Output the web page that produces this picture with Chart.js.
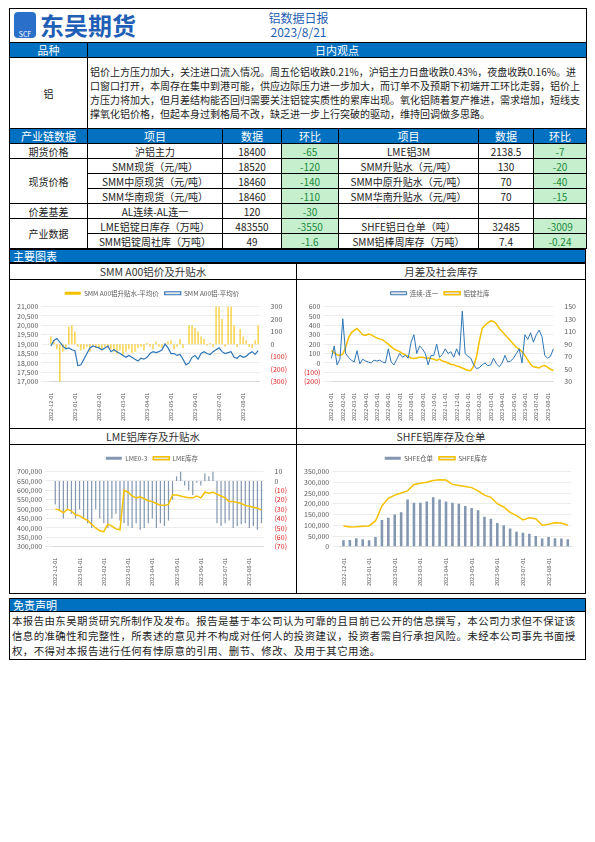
<!DOCTYPE html>
<html><head><meta charset="utf-8">
<script src="https://cdn.jsdelivr.net/npm/chart.js@4"></script>
<style>
body{margin:0;background:#fff;font-family:"Noto Sans CJK SC","DejaVu Sans",sans-serif;}
#page{position:absolute;left:9px;top:8px;width:577px;}
table{border-collapse:collapse;width:577px;table-layout:fixed;}
td{border:1px solid #000;font-size:10px;text-align:center;padding:0;height:14px;line-height:13px;color:#222;}
.h td,.h{background:#0070c0;color:#fff;font-size:11px;}
.g{background:#c6efce;color:#1a8a3a;}
.bar{background:#0070c0;color:#fff;font-size:11px;text-align:left;padding-left:3px;height:12px;line-height:12px;border:1px solid #000;}
.ct{border:1px solid #000;text-align:center;font-size:10.5px;height:15px;line-height:15px;color:#333;}
.cv{border:1px solid #000;border-top:none;height:148px;position:relative;}
</style></head><body>
<div id="page">
<table>
<colgroup><col style="width:78px"><col style="width:135px"><col style="width:59px"><col style="width:57px"><col style="width:140px"><col style="width:55px"><col style="width:53px"></colgroup>
<tr><td colspan="7" style="height:33px;text-align:left;position:relative">
<div style="position:absolute;left:4px;top:3px;width:22px;height:26px;border-radius:4px;background:#2a6fc9;color:#fff;font-size:7px;line-height:44px;text-align:center">SCF</div>
<div style="position:absolute;left:30px;top:1px;font-size:24px;font-weight:bold;color:#1f5fb5;line-height:30px">东吴期货</div>
<div style="position:absolute;left:0;width:577px;top:2px;text-align:center;color:#1f5fb5;font-size:12px;line-height:14px">铝数据日报<br>2023/8/21</div></td></tr>
<tr class="h"><td>品种</td><td colspan="6">日内观点</td></tr>
<tr><td>铝</td><td colspan="6" style="text-align:left;padding:1px 2px;font-size:10px;line-height:14px;height:68px">铝价上方压力加大，关注进口流入情况。周五伦铝收跌0.21%，沪铝主力日盘收跌0.43%，夜盘收跌0.16%。进口窗口打开，本周存在集中到港可能，供应边际压力进一步加大，而订单不及预期下初端开工环比走弱，铝价上方压力将加大，但月差结构能否回归需要关注铝锭实质性的累库出现。氧化铝随着复产推进，需求增加，短线支撑氧化铝价格，但起本身过剩格局不改，缺乏进一步上行突破的驱动，维持回调做多思路。</td></tr>
<tr class="h"><td>产业链数据</td><td>项目</td><td>数据</td><td>环比</td><td>项目</td><td>数据</td><td>环比</td></tr>
<tr><td>期货价格</td><td>沪铝主力</td><td>18400</td><td class="g">-65</td><td>LME铝3M</td><td>2138.5</td><td class="g">-7</td></tr>
<tr><td rowspan="3">现货价格</td><td>SMM现货（元/吨）</td><td>18520</td><td class="g">-120</td><td>SMM升贴水（元/吨）</td><td>130</td><td class="g">-20</td></tr>
<tr><td>SMM中原现货（元/吨）</td><td>18460</td><td class="g">-140</td><td>SMM中原升贴水（元/吨）</td><td>70</td><td class="g">-40</td></tr>
<tr><td>SMM华南现货（元/吨）</td><td>18460</td><td class="g">-110</td><td>SMM华南升贴水（元/吨）</td><td>70</td><td class="g">-15</td></tr>
<tr><td>价差基差</td><td>AL连续-AL连一</td><td>120</td><td class="g">-30</td><td></td><td></td><td></td></tr>
<tr><td rowspan="2">产业数据</td><td>LME铝锭日库存（万吨）</td><td>483550</td><td class="g">-3550</td><td>SHFE铝日仓单（吨）</td><td>32485</td><td class="g">-3009</td></tr>
<tr><td>SMM铝锭周社库（万吨）</td><td>49</td><td class="g">-1.6</td><td>SMM铝棒周库存（万吨）</td><td>7.4</td><td class="g">-0.24</td></tr>
</table>
<div class="bar">主要图表</div>
<div style="display:flex">
<div style="width:288px"><div class="ct">SMM A00铝价及升贴水</div><div class="cv"><canvas id="c1"></canvas></div></div>
<div style="width:289px"><div class="ct" style="border-left:none">月差及社会库存</div><div class="cv" style="border-left:none"><canvas id="c2"></canvas></div></div>
</div>
<div style="display:flex">
<div style="width:288px"><div class="ct" style="border-top:none">LME铝库存及升贴水</div><div class="cv"><canvas id="c3"></canvas></div></div>
<div style="width:289px"><div class="ct" style="border-top:none;border-left:none">SHFE铝库存及仓单</div><div class="cv" style="border-left:none"><canvas id="c4"></canvas></div></div>
</div>
<div class="bar" style="margin-top:4px">免责声明</div>
<div style="border:1px solid #000;border-top:none;font-size:10.4px;letter-spacing:0.45px;line-height:15px;padding:1px 2px;color:#222">本报告由东吴期货研究所制作及发布。报告是基于本公司认为可靠的且目前已公开的信息撰写，本公司力求但不保证该信息的准确性和完整性，所表述的意见并不构成对任何人的投资建议，投资者需自行承担风险。未经本公司事先书面授权，不得对本报告进行任何有悖原意的引用、删节、修改、及用于其它用途。</div>
</div>
<script>
// ---- data ----
const ticks1 = ["2022-12-01","2023-01-01","2023-02-01","2023-03-01","2023-04-01","2023-05-01","2023-06-01","2023-07-01","2023-08-01"];
const smmPrice = [18900,19200,19300,19100,18900,18750,18800,18700, 18650,17850,17900,18200,18500,18800,18900,18850, 18800,18700,18800,18900,18600,18700,18600,18500, 18400,18300,18400,18300,18200,18100,18250,18200, 18300,18500,18600,18550,18600,18700,19000,18800, 18500,18500,18400,18450,18200,17900,18000,18300, 18400,18200,18500,18600,18500,18450,18600,18700, 18800,18600,18500,18550,18600,18300,18250,18400, 18300,18350,18500,18600,18450,18650];
const smmPremium = [60,30,-40,-300,-60,-40,140,150, 100,-20,-50,-40,-20,-60,-10,-30, -30,-50,-20,-30,-40,-60,-80,-50, -90,-60,-40,-70,-60,-30,-20,-50, 10,-20,-40,20,-20,-30,10,20, 30,-40,-20,40,-30,0,150,150, 130,100,60,40,-10,10,-20,300, 300,200,-20,300,300,150,-20,120, 60,30,-20,-30,30,150];
const ticks2 = ["2022-01-01","2022-02-01","2022-03-01","2022-04-01","2022-05-01","2022-06-01","2022-07-01","2022-08-01","2022-09-01","2022-10-01","2022-11-01","2022-12-01","2023-01-01","2023-02-01","2023-03-01","2023-04-01","2023-05-01","2023-06-01","2023-07-01","2023-08-01"];
const spread = [50,180,-20,40, 470,100,60,30, 10,130,-10,40, 20,10,0,30, 20,30,10,0, 150,10,-20,40, 100,60,80,50, 220,300,100,180, 150,100,-20,80, 80,200,60,90, 150,100,120,60, 150,80,550,100, 70,50,-20,-60, -50,-20,0,-30, -20,50,-10,-40, 0,80,10,20, 50,100,150,0, 300,250,320,220, 300,350,280,80, 50,70,150];
const socialStock = [80,76,73,72, 74,85,100,108, 112,115,110,105, 104,106,105,102, 100,98,97,93, 90,86,82,80, 78,75,73,70, 68,67,68,69, 69,68,68,67, 66,64,66,63, 62,60,58,57, 55,54,52,50, 48,48,55,70, 95,115,120,124, 127,126,122,115, 110,105,100,95, 90,85,82,78, 72,65,58,54, 53,52,55,56, 53,50,48];
const ticks3 = ticks1;
const lmeStock = [500000,495000,480000,500000,490000,470000, 465000,450000,440000,420000,400000,385000, 380000,420000,410000,395000,390000,600000, 590000,570000,560000,565000,555000,545000, 540000,530000,520000,520000,525000,575000, 575000,570000,565000,560000,560000,570000, 560000,590000,585000,590000,580000,570000, 560000,540000,540000,535000,530000,520000, 515000,510000,505000,495000];
const lme03 = [-25,-30,-40,-30,-35,-40, -30,-40,-45,-50,-30,-40, -45,-50,-40,-35,-42,-45, -48,-50,-45,-52,-50,-45, -40,-50,-45,-48,-42,-20, 5,10,-5,-10,-15,-2, -5,8,5,10,-45,-48, -45,-42,-50,-48,-46,-45, -50,-48,-52,-45];
const ticks4 = ticks1;
const shfeStock = [97000,92000,93000,95000, 97000,120000,190000,225000, 240000,250000,260000,290000, 295000,300000,308000,312000, 310000,290000,285000,280000, 275000,260000,240000,230000, 200000,185000,160000,145000, 125000,135000,130000,100000, 105000,112000,110000,100000];
const shfeWarrant = [30000,32000,40000,35000, 30000,45000,125000,135000, 150000,160000,220000,205000, 205000,210000,230000,220000, 210000,205000,200000,190000, 180000,170000,140000,130000, 110000,100000,85000,70000, 65000,60000,50000,38000, 45000,40000,38000,35000];
const legend1 = ["SMM A00铝升贴水-平均价","SMM A00铝-平均价"];
const legend2 = ["连续-连一","铝锭社库"];
const legend3 = ["LME0-3","LME库存"];
const legend4 = ["SHFE仓单","SHFE库存"];

Chart.defaults.font.size = 7;
Chart.defaults.font.family = "'Noto Sans CJK SC', 'DejaVu Sans', sans-serif";
Chart.defaults.color = '#595959';
Chart.defaults.animation = false;
Chart.defaults.responsive = true;
Chart.defaults.maintainAspectRatio = false;

function mkLabels(ticks, n, per){
  const a=[]; for(let i=0;i<n;i++){ a.push(i%per===0 ? (ticks[i/per]||'') : ''); } return a;
}
function paren(v){ return v<0 ? '('+Math.abs(v)+')' : v.toLocaleString('en-US'); }
function redNeg(c){ return c.tick && c.tick.value<0 ? '#e02020' : '#595959'; }
function xAxis(){
  return {grid:{display:false},border:{color:'#d9d9d9'},ticks:{autoSkip:false,maxRotation:90,minRotation:90,font:{size:5.5},callback:function(v){return this.getLabelForValue(v)||null;}}};
}
const legendOpt = {position:'top',labels:{boxWidth:16,boxHeight:3,font:{size:6.5},padding:6,sort:(a,b)=>a.datasetIndex-b.datasetIndex}};
const pad = {left:4,right:6,top:4,bottom:4};
const gridL = {color:'#ececec'};

new Chart(document.getElementById('c1'),{data:{labels:mkLabels(ticks1,smmPrice.length,8),datasets:[
 {type:'bar',label:legend1[0],data:smmPremium,backgroundColor:'#f5c000',yAxisID:'y2',barPercentage:0.35,categoryPercentage:1,order:2},
 {type:'line',label:legend1[1],data:smmPrice,borderColor:'#2e75b6',borderWidth:1.2,pointRadius:0,yAxisID:'y',order:1}]},
 options:{layout:{padding:pad},plugins:{legend:legendOpt},scales:{x:xAxis(),
  y:{min:17000,max:21000,ticks:{stepSize:500,autoSkip:false,callback:v=>v.toLocaleString('en-US')},grid:gridL,border:{display:false}},
  y2:{position:'right',min:-300,max:300,ticks:{stepSize:100,autoSkip:false,callback:paren,color:redNeg},grid:{display:false},border:{display:false}}}}});

new Chart(document.getElementById('c2'),{type:'line',data:{labels:mkLabels(ticks2,spread.length,4),datasets:[
 {label:legend2[0],data:spread,borderColor:'#2e75b6',borderWidth:1,pointRadius:0,yAxisID:'y'},
 {label:legend2[1],data:socialStock,borderColor:'#f5c000',borderWidth:1.5,pointRadius:0,yAxisID:'y2'}]},
 options:{layout:{padding:pad},plugins:{legend:legendOpt},scales:{x:xAxis(),
  y:{min:-200,max:600,ticks:{stepSize:100,autoSkip:false,callback:paren,color:redNeg},grid:gridL,border:{display:false}},
  y2:{position:'right',min:30,max:150,ticks:{stepSize:20,autoSkip:false},grid:{display:false},border:{display:false}}}}});

new Chart(document.getElementById('c3'),{data:{labels:mkLabels(ticks3,lmeStock.length,6),datasets:[
 {type:'bar',label:legend3[0],data:lme03,backgroundColor:'#8497b0',yAxisID:'y2',barPercentage:0.3,categoryPercentage:1,order:2},
 {type:'line',label:legend3[1],data:lmeStock,borderColor:'#f5c000',borderWidth:1.5,pointRadius:0,yAxisID:'y',order:1}]},
 options:{layout:{padding:pad},plugins:{legend:legendOpt},scales:{x:xAxis(),
  y:{min:300000,max:700000,ticks:{stepSize:50000,autoSkip:false,callback:v=>v.toLocaleString('en-US')},grid:gridL,border:{display:false}},
  y2:{position:'right',min:-70,max:10,ticks:{stepSize:10,autoSkip:false,callback:paren,color:redNeg},grid:{display:false},border:{display:false}}}}});

new Chart(document.getElementById('c4'),{data:{labels:mkLabels(ticks4,shfeStock.length,4),datasets:[
 {type:'bar',label:legend4[0],data:shfeWarrant,backgroundColor:'#8497b0',barPercentage:0.4,categoryPercentage:1,order:2},
 {type:'line',label:legend4[1],data:shfeStock,borderColor:'#f5c000',borderWidth:1.5,pointRadius:0,order:1}]},
 options:{layout:{padding:{left:4,right:14,top:4,bottom:4}},plugins:{legend:legendOpt},scales:{x:xAxis(),
  y:{min:0,max:350000,ticks:{stepSize:50000,autoSkip:false,callback:v=>v.toLocaleString('en-US')},grid:gridL,border:{display:false}}}}});
</script>
</body></html>
